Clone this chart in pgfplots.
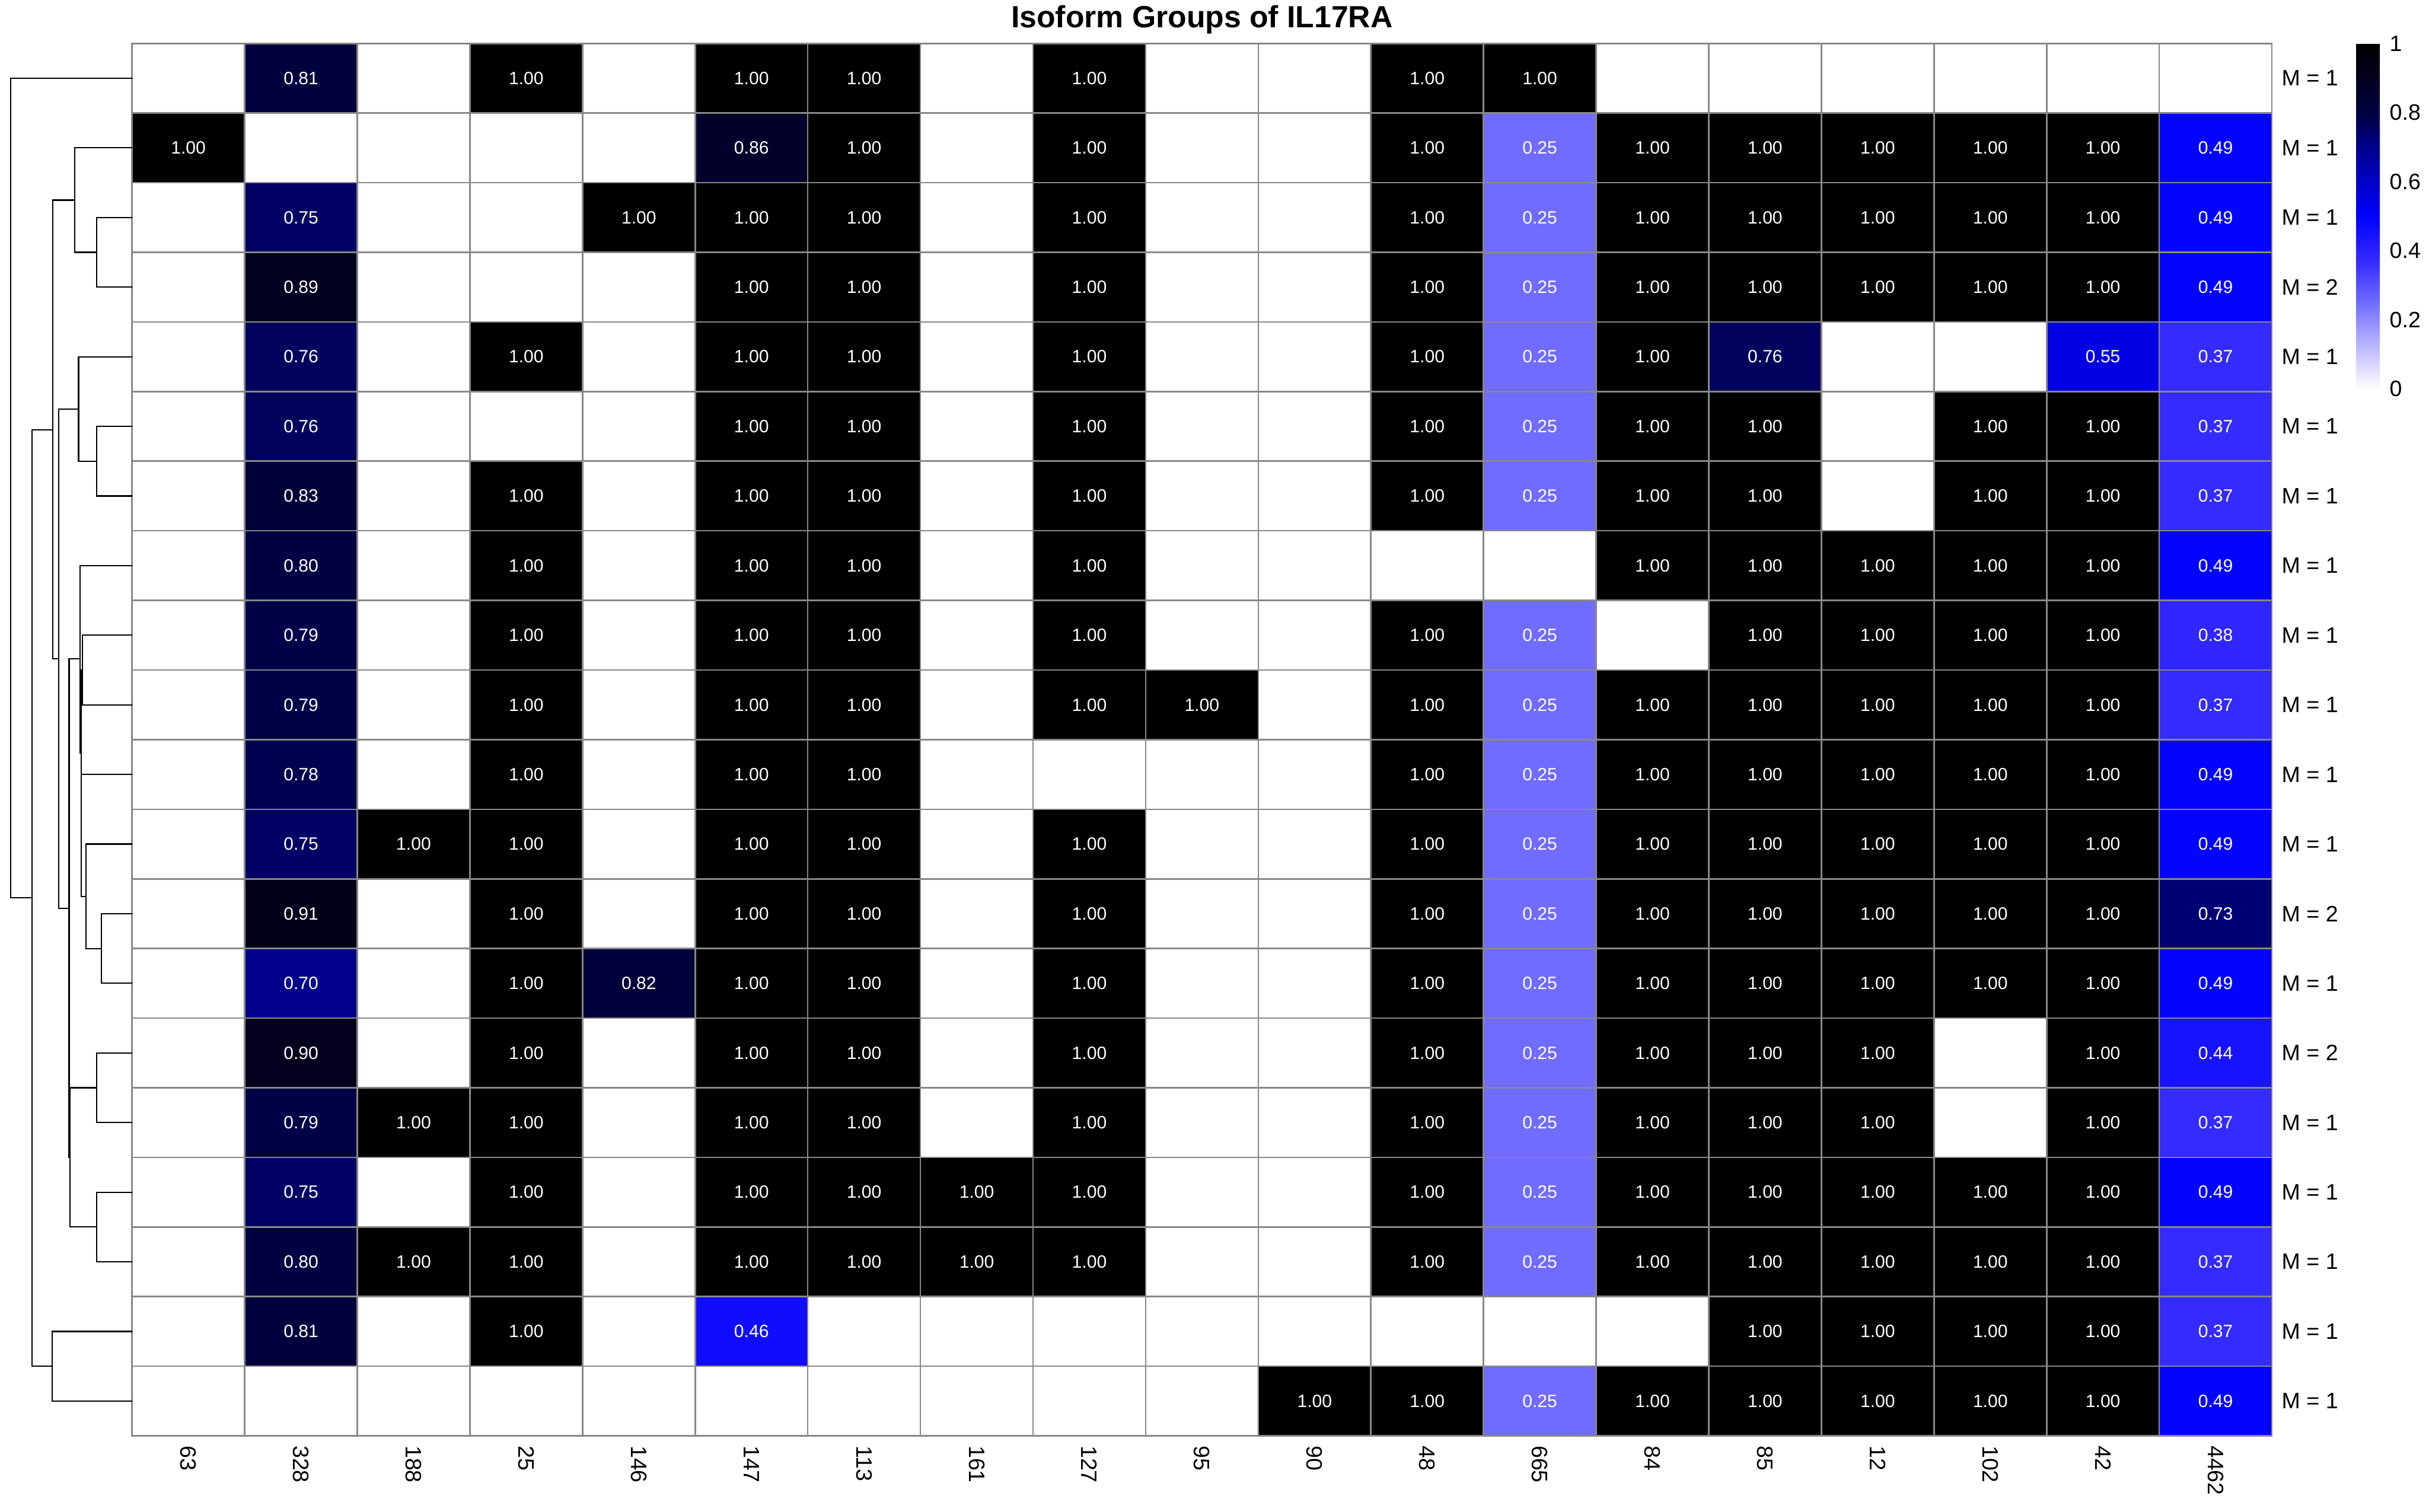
\documentclass[border=0pt]{standalone}
\usepackage{fontspec}
\setmainfont{Liberation Sans}
\usepackage{pgfplots}
\usepackage{pgfplotstable}
\pgfplotsset{compat=1.18}
\pgfplotsset{colormap={hmap}{rgb255(0cm)=(255,255,255) rgb255(5cm)=(185,182,255) rgb255(10cm)=(112,108,255) rgb255(15cm)=(50,40,255) rgb255(20cm)=(0,0,255) rgb255(24cm)=(0,0,200) rgb255(28cm)=(0,0,140) rgb255(30cm)=(0,0,100) rgb255(32cm)=(0,0,66) rgb255(36cm)=(2,0,28) rgb255(40cm)=(0,0,0)}}
\definecolor{gridgray}{RGB}{136,136,136}
% heatmap values, row by row (rows top to bottom, 19 columns each); 0 = empty cell
% columns: 63 328 188 25 146 147 113 161 127 95 90 48 665 84 85 12 102 42 4462
\pgfplotstableread[row sep=\\]{
v \\
0 \\ 0.81 \\ 0 \\ 1 \\ 0 \\ 1 \\ 1 \\ 0 \\ 1 \\ 0 \\ 0 \\ 1 \\ 1 \\ 0 \\ 0 \\ 0 \\ 0 \\ 0 \\ 0 \\
1 \\ 0 \\ 0 \\ 0 \\ 0 \\ 0.86 \\ 1 \\ 0 \\ 1 \\ 0 \\ 0 \\ 1 \\ 0.25 \\ 1 \\ 1 \\ 1 \\ 1 \\ 1 \\ 0.49 \\
0 \\ 0.75 \\ 0 \\ 0 \\ 1 \\ 1 \\ 1 \\ 0 \\ 1 \\ 0 \\ 0 \\ 1 \\ 0.25 \\ 1 \\ 1 \\ 1 \\ 1 \\ 1 \\ 0.49 \\
0 \\ 0.89 \\ 0 \\ 0 \\ 0 \\ 1 \\ 1 \\ 0 \\ 1 \\ 0 \\ 0 \\ 1 \\ 0.25 \\ 1 \\ 1 \\ 1 \\ 1 \\ 1 \\ 0.49 \\
0 \\ 0.76 \\ 0 \\ 1 \\ 0 \\ 1 \\ 1 \\ 0 \\ 1 \\ 0 \\ 0 \\ 1 \\ 0.25 \\ 1 \\ 0.76 \\ 0 \\ 0 \\ 0.55 \\ 0.37 \\
0 \\ 0.76 \\ 0 \\ 0 \\ 0 \\ 1 \\ 1 \\ 0 \\ 1 \\ 0 \\ 0 \\ 1 \\ 0.25 \\ 1 \\ 1 \\ 0 \\ 1 \\ 1 \\ 0.37 \\
0 \\ 0.83 \\ 0 \\ 1 \\ 0 \\ 1 \\ 1 \\ 0 \\ 1 \\ 0 \\ 0 \\ 1 \\ 0.25 \\ 1 \\ 1 \\ 0 \\ 1 \\ 1 \\ 0.37 \\
0 \\ 0.80 \\ 0 \\ 1 \\ 0 \\ 1 \\ 1 \\ 0 \\ 1 \\ 0 \\ 0 \\ 0 \\ 0 \\ 1 \\ 1 \\ 1 \\ 1 \\ 1 \\ 0.49 \\
0 \\ 0.79 \\ 0 \\ 1 \\ 0 \\ 1 \\ 1 \\ 0 \\ 1 \\ 0 \\ 0 \\ 1 \\ 0.25 \\ 0 \\ 1 \\ 1 \\ 1 \\ 1 \\ 0.38 \\
0 \\ 0.79 \\ 0 \\ 1 \\ 0 \\ 1 \\ 1 \\ 0 \\ 1 \\ 1 \\ 0 \\ 1 \\ 0.25 \\ 1 \\ 1 \\ 1 \\ 1 \\ 1 \\ 0.37 \\
0 \\ 0.78 \\ 0 \\ 1 \\ 0 \\ 1 \\ 1 \\ 0 \\ 0 \\ 0 \\ 0 \\ 1 \\ 0.25 \\ 1 \\ 1 \\ 1 \\ 1 \\ 1 \\ 0.49 \\
0 \\ 0.75 \\ 1 \\ 1 \\ 0 \\ 1 \\ 1 \\ 0 \\ 1 \\ 0 \\ 0 \\ 1 \\ 0.25 \\ 1 \\ 1 \\ 1 \\ 1 \\ 1 \\ 0.49 \\
0 \\ 0.91 \\ 0 \\ 1 \\ 0 \\ 1 \\ 1 \\ 0 \\ 1 \\ 0 \\ 0 \\ 1 \\ 0.25 \\ 1 \\ 1 \\ 1 \\ 1 \\ 1 \\ 0.73 \\
0 \\ 0.70 \\ 0 \\ 1 \\ 0.82 \\ 1 \\ 1 \\ 0 \\ 1 \\ 0 \\ 0 \\ 1 \\ 0.25 \\ 1 \\ 1 \\ 1 \\ 1 \\ 1 \\ 0.49 \\
0 \\ 0.90 \\ 0 \\ 1 \\ 0 \\ 1 \\ 1 \\ 0 \\ 1 \\ 0 \\ 0 \\ 1 \\ 0.25 \\ 1 \\ 1 \\ 1 \\ 0 \\ 1 \\ 0.44 \\
0 \\ 0.79 \\ 1 \\ 1 \\ 0 \\ 1 \\ 1 \\ 0 \\ 1 \\ 0 \\ 0 \\ 1 \\ 0.25 \\ 1 \\ 1 \\ 1 \\ 0 \\ 1 \\ 0.37 \\
0 \\ 0.75 \\ 0 \\ 1 \\ 0 \\ 1 \\ 1 \\ 1 \\ 1 \\ 0 \\ 0 \\ 1 \\ 0.25 \\ 1 \\ 1 \\ 1 \\ 1 \\ 1 \\ 0.49 \\
0 \\ 0.80 \\ 1 \\ 1 \\ 0 \\ 1 \\ 1 \\ 1 \\ 1 \\ 0 \\ 0 \\ 1 \\ 0.25 \\ 1 \\ 1 \\ 1 \\ 1 \\ 1 \\ 0.37 \\
0 \\ 0.81 \\ 0 \\ 1 \\ 0 \\ 0.46 \\ 0 \\ 0 \\ 0 \\ 0 \\ 0 \\ 0 \\ 0 \\ 0 \\ 1 \\ 1 \\ 1 \\ 1 \\ 0.37 \\
0 \\ 0 \\ 0 \\ 0 \\ 0 \\ 0 \\ 0 \\ 0 \\ 0 \\ 0 \\ 1 \\ 1 \\ 0.25 \\ 1 \\ 1 \\ 1 \\ 1 \\ 1 \\ 0.49 \\
}\hmdata
\newcommand{\lblfont}{\fontsize{8}{9.6}\selectfont}
\newcommand{\cellfont}{\fontsize{6.4}{7.6}\selectfont}
\begin{document}
\begin{tikzpicture}
\useasboundingbox (0pt,0pt) rectangle (871.8pt,-542.6pt);
% ---------------- heatmap ----------------
\begin{axis}[
  name=hm,
  at={(47.4pt,-15.6pt)}, anchor=north west,
  scale only axis, width=768pt, height=499.8pt,
  xmin=-0.5, xmax=18.5, ymin=-0.5, ymax=19.5,
  axis on top,
  /pgf/number format/assume math mode=true,
  point meta min=0, point meta max=1,
  colormap name=hmap,
  xtick={0,...,18},
  xticklabels={63,328,188,25,146,147,113,161,127,95,90,48,665,84,85,12,102,42,4462},
  xticklabel style={font=\lblfont, rotate=-90, anchor=west},
  ytick={0,...,19},
  yticklabels={M = 1,M = 1,M = 1,M = 1,M = 1,M = 2,M = 1,M = 2,M = 1,M = 1,M = 1,M = 1,M = 1,M = 1,M = 1,M = 1,M = 2,M = 1,M = 1,M = 1},
  yticklabel pos=right,
  yticklabel style={font=\lblfont, anchor=west},
  major tick length=0pt, minor tick length=0pt,
  minor xtick={-0.5,0.5,...,18.5},
  minor ytick={-0.5,0.5,...,19.5},
  xminorgrids, yminorgrids,
  minor grid style={draw=gridgray, line width=0.55pt},
  axis line style={draw=gridgray, line width=0.55pt},
  title={Isoform Groups of IL17RA},
  every axis title shift=0pt,
  title style={font=\bfseries\fontsize{11}{13}\selectfont, at={(0.5,1)}, anchor=base, yshift=5.8pt},
  colorbar,
  colorbar style={
    at={(parent axis.north east)}, anchor=north west, xshift=21.8pt,
    scale only axis, width=8.4pt, height=124pt,
    ytick={0,0.2,0.4,0.6,0.8,1},
    yticklabel style={font=\lblfont},
    /pgf/number format/assume math mode=true,
    major tick length=0pt,
    axis line style={draw=none},
  },
]
\addplot[matrix plot*, mesh/cols=19, point meta=explicit]
  table[x index=0, y index=0, x expr={mod(\coordindex,19)}, y expr={19-floor((\coordindex+0.5)/19)}, meta=v]{\hmdata};
\addplot[draw=none, mark=none, point meta=explicit, unbounded coords=discard,
  nodes near coords, nodes near coords align={center},
  every node near coord/.append style={font=\cellfont, text=white, anchor=center,
    /pgf/number format/fixed, /pgf/number format/fixed zerofill,
    /pgf/number format/precision=2, /pgf/number format/assume math mode=true}]
  table[x index=0, y index=0, x expr={mod(\coordindex,19)}, y expr={\thisrow{v}>0 ? 19-floor((\coordindex+0.5)/19) : nan}, meta=v]{\hmdata};
\end{axis}
% ---------------- dendrogram ----------------
\begin{axis}[
  at={(0pt,-15.6pt)}, anchor=north west,
  scale only axis, width=47.4pt, height=499.8pt,
  xmin=0, xmax=237, ymin=0.5, ymax=20.5, y dir=reverse,
  hide axis, clip=false,
  dend/.style={black, solid, line width=0.45pt, mark=none},
]
\addplot[dend] coordinates {(237,1) (19,1) (19,12.77) (57,12.77)};
\addplot[dend] coordinates {(95,6.05) (57,6.05) (57,19.5) (94,19.5)};
\addplot[dend] coordinates {(237,19) (94,19) (94,20) (237,20)};
\addplot[dend] coordinates {(134,2.75) (95,2.75) (95,9.34) (105,9.34)};
\addplot[dend] coordinates {(237,2) (134,2) (134,3.5) (173,3.5)};
\addplot[dend] coordinates {(237,3) (173,3) (173,4) (237,4)};
\addplot[dend] coordinates {(141,5.75) (105,5.75) (105,12.92) (124,12.92)};
\addplot[dend] coordinates {(237,5) (141,5) (141,6.5) (173,6.5)};
\addplot[dend] coordinates {(237,6) (173,6) (173,7) (237,7)};
\addplot[dend] coordinates {(144,9.34) (124,9.34) (124,16.5) (126,16.5)};
\addplot[dend] coordinates {(173,15.5) (126,15.5) (126,17.5) (173,17.5)};
\addplot[dend] coordinates {(237,15) (173,15) (173,16) (237,16)};
\addplot[dend] coordinates {(237,17) (173,17) (173,18) (237,18)};
\addplot[dend] coordinates {(237,8) (144,8) (144,10.69) (145.5,10.69)};
\addplot[dend] coordinates {(148,9.5) (145.5,9.5) (145.5,11.875) (146,11.875)};
\addplot[dend] coordinates {(237,9) (148,9) (148,10) (237,10)};
\addplot[dend] coordinates {(237,11) (146,11) (146,12.75) (154,12.75)};
\addplot[dend] coordinates {(237,12) (154,12) (154,13.5) (182,13.5)};
\addplot[dend] coordinates {(237,13) (182,13) (182,14) (237,14)};
\end{axis}
\end{tikzpicture}
\end{document}
